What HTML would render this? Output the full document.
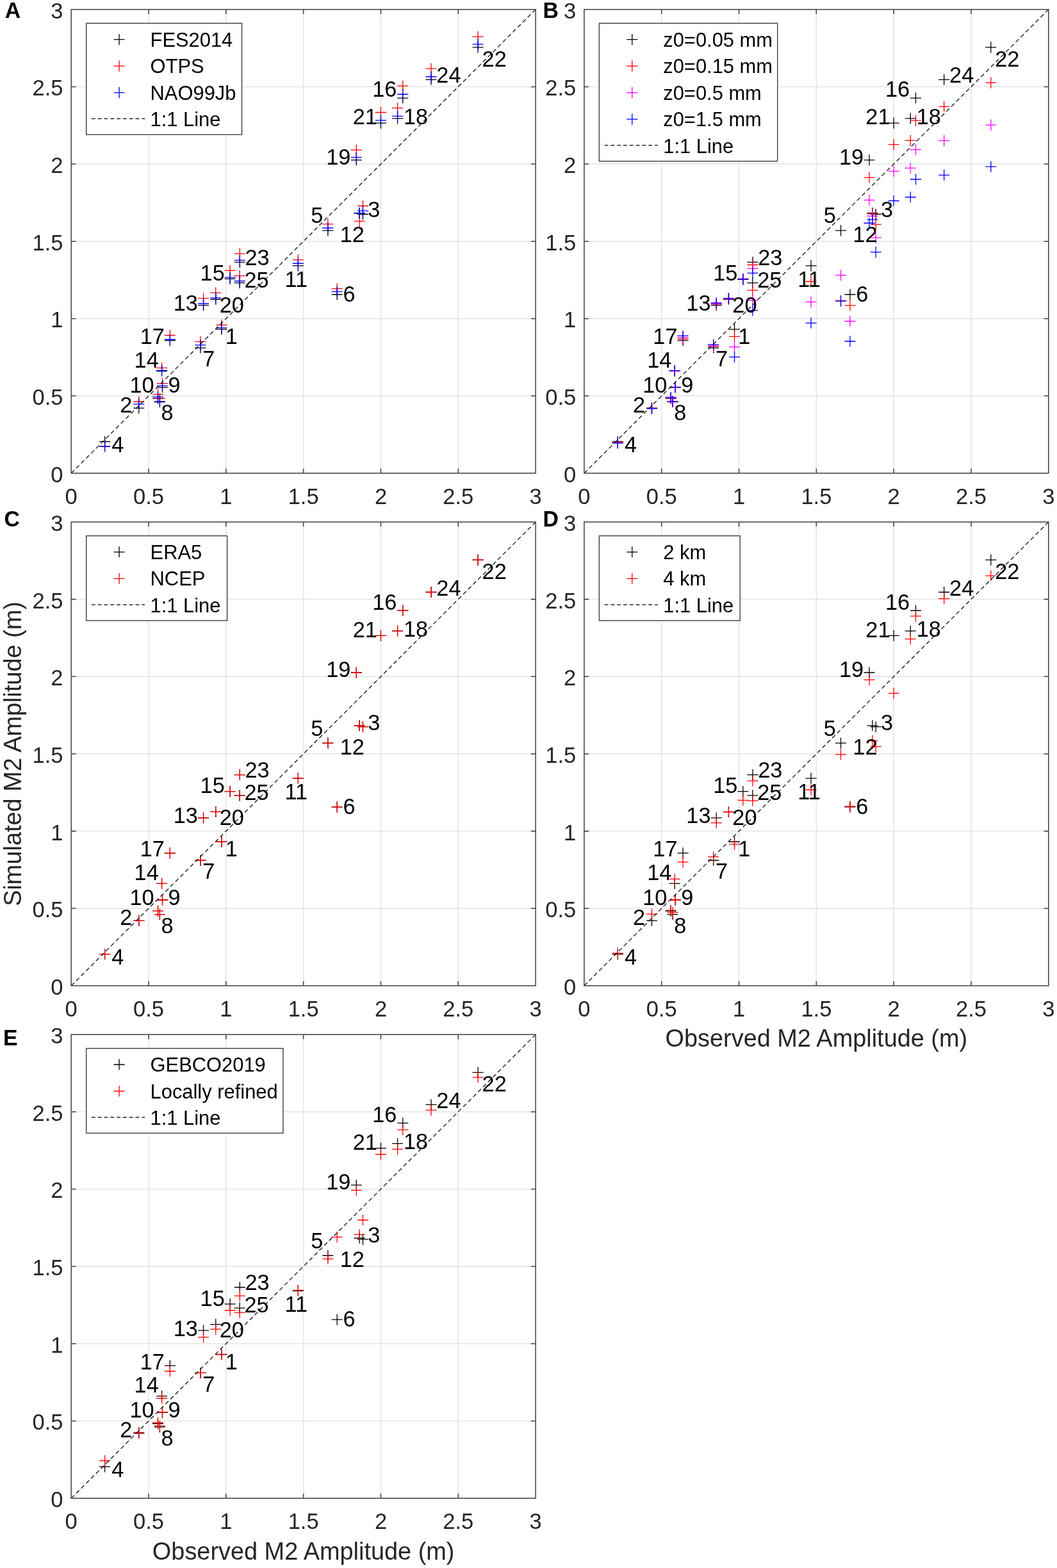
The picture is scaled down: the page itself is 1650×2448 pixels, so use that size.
<!DOCTYPE html>
<html lang="en"><head><meta charset="utf-8"><title>Simulated vs observed M2 amplitude</title>
<style>
html,body{margin:0;padding:0;background:#fff}
body{width:1650px;height:2448px;overflow:hidden}
svg{display:block;font-family:"Liberation Sans",sans-serif}
.grid{fill:none;stroke:#e4e4e4;stroke-width:1.5}
.ax{fill:none;stroke:#454545;stroke-width:1.55}
.mk{fill:none;stroke-width:1.3}
.one{fill:none;stroke:#000;stroke-width:1.2;stroke-dasharray:6.6 4.345}
.lgone{fill:none;stroke:#000;stroke-width:1.2;stroke-dasharray:5.8 4}
.lgbox{fill:#fff;stroke:#333;stroke-width:1.3}
.st text{font-size:34.3px;fill:#000}
.tk text{font-size:34.5px;fill:#262626}
.lg text{font-size:30.9px;fill:#000}
.axl{font-size:37.9px;fill:#262626}
.pl{font-size:33.8px;font-weight:bold;fill:#000}
</style></head><body>
<svg width="1650" height="2448" viewBox="0 0 1650 2448">
<rect width="1650" height="2448" fill="#fff"/>
<g class="panel">
<path class="grid" d="M232.02 14.75V738.75M111.2 618.08H836.1M352.83 14.75V738.75M111.2 497.42H836.1M473.65 14.75V738.75M111.2 376.75H836.1M594.47 14.75V738.75M111.2 256.08H836.1M715.28 14.75V738.75M111.2 135.42H836.1"/>
<path class="mk" stroke="#000" d="M337.28 514.07h17.1M345.83 505.52v17.1M208.24 637.15h17.1M216.79 628.6v17.1M557.89 334.52h17.1M566.44 325.97v17.1M155.08 689.52h17.1M163.63 680.97v17.1M503.28 359.86h17.1M511.83 351.31v17.1M517.66 459.77h17.1M526.21 451.22v17.1M304.41 543.03h17.1M312.96 534.48v17.1M240.86 627.5h17.1M249.41 618.95v17.1M244.97 604.81h17.1M253.52 596.26v17.1M237.96 622.19h17.1M246.51 613.64v17.1M456.79 414.88h17.1M465.34 406.33v17.1M552.57 332.59h17.1M561.12 324.04v17.1M309 476.66h17.1M317.55 468.11v17.1M244.01 579.23h17.1M252.56 570.68v17.1M350.57 435.39h17.1M359.12 426.84v17.1M620.23 153.03h17.1M628.78 144.48v17.1M256.81 531.69h17.1M265.36 523.14v17.1M612.01 184.89h17.1M620.56 176.34v17.1M547.74 249.81h17.1M556.29 241.26v17.1M328.21 467.25h17.1M336.76 458.7v17.1M585.92 192.13h17.1M594.47 183.58v17.1M737.54 73.88h17.1M746.09 65.33v17.1M365.79 409.33h17.1M374.34 400.78v17.1M664.45 124.32h17.1M673 115.77v17.1M365.55 441.67h17.1M374.1 433.12v17.1"/>
<path class="mk" stroke="#f00" d="M337.28 507.31h17.1M345.83 498.76v17.1M208.24 627.01h17.1M216.79 618.46v17.1M557.89 321.48h17.1M566.44 312.93v17.1M155.08 697h17.1M163.63 688.45v17.1M503.28 349.96h17.1M511.83 341.41v17.1M517.66 450.72h17.1M526.21 442.17v17.1M304.41 533.38h17.1M312.96 524.83v17.1M240.86 621.94h17.1M249.41 613.39v17.1M244.97 598.54h17.1M253.52 589.99v17.1M237.96 615.79h17.1M246.51 607.24v17.1M456.79 405.71h17.1M465.34 397.16v17.1M552.57 345.38h17.1M561.12 336.83v17.1M309 465.8h17.1M317.55 457.25v17.1M244.01 574.4h17.1M252.56 565.85v17.1M350.57 422.36h17.1M359.12 413.81v17.1M620.23 134.21h17.1M628.78 125.66v17.1M256.81 523.48h17.1M265.36 514.93v17.1M612.01 168.72h17.1M620.56 160.17v17.1M547.74 234.12h17.1M556.29 225.57v17.1M328.21 457.11h17.1M336.76 448.56v17.1M585.92 175.48h17.1M594.47 166.93v17.1M737.54 57.32h17.1M746.09 48.77v17.1M365.79 396.06h17.1M374.34 387.51v17.1M664.45 107.18h17.1M673 98.63v17.1M365.55 430.57h17.1M374.1 422.02v17.1"/>
<path class="mk" stroke="#00f" d="M337.28 511.9h17.1M345.83 503.35v17.1M208.24 630.87h17.1M216.79 622.32v17.1M557.89 329.21h17.1M566.44 320.66v17.1M155.08 697h17.1M163.63 688.45v17.1M503.28 356h17.1M511.83 347.45v17.1M517.66 455.3h17.1M526.21 446.75v17.1M304.41 538.68h17.1M312.96 530.13v17.1M240.86 626.89h17.1M249.41 618.34v17.1M244.97 602.4h17.1M253.52 593.85v17.1M237.96 619.53h17.1M246.51 610.98v17.1M456.79 411.26h17.1M465.34 402.71v17.1M552.57 333.07h17.1M561.12 324.52v17.1M309 474.01h17.1M317.55 465.46v17.1M244.01 578.5h17.1M252.56 569.95v17.1M350.57 433.22h17.1M359.12 424.67v17.1M620.23 147.24h17.1M628.78 138.69v17.1M256.81 530h17.1M265.36 521.45v17.1M612.01 181.37h17.1M620.56 172.82v17.1M547.74 245.71h17.1M556.29 237.16v17.1M328.21 464.84h17.1M336.76 456.29v17.1M585.92 187.79h17.1M594.47 179.24v17.1M737.54 69.05h17.1M746.09 60.5v17.1M365.79 406.43h17.1M374.34 397.88v17.1M664.45 119.73h17.1M673 111.18v17.1M365.55 438.77h17.1M374.1 430.22v17.1"/>
<path class="one" d="M111.2 738.75L836.1 14.75"/>
<g class="st">
<text transform="translate(351.67 537.1) scale(1 1.04)">1</text>
<text transform="translate(187.27 643.7) scale(1 1.04)">2</text>
<text transform="translate(574.19 339.3) scale(1 1.04)">3</text>
<text transform="translate(174.21 705.5) scale(1 1.04)">4</text>
<text transform="translate(485.13 348.3) scale(1 1.04)">5</text>
<text transform="translate(535.46 470.8) scale(1 1.04)">6</text>
<text transform="translate(316.34 572.1) scale(1 1.04)">7</text>
<text transform="translate(251.61 656.3) scale(1 1.04)">8</text>
<text transform="translate(262.49 612.7) scale(1 1.04)">9</text>
<text transform="translate(202.47 612.7) scale(1 1.04)">10</text>
<text transform="translate(444.57 447.8) scale(1 1.04)">11</text>
<text transform="translate(530.67 378) scale(1 1.04)">12</text>
<text transform="translate(270.67 485.2) scale(1 1.04)">13</text>
<text transform="translate(209.57 573.5) scale(1 1.04)">14</text>
<text transform="translate(312.57 438.2) scale(1 1.04)">15</text>
<text transform="translate(581.27 151.4) scale(1 1.04)">16</text>
<text transform="translate(218.67 537.1) scale(1 1.04)">17</text>
<text transform="translate(629.97 193.5) scale(1 1.04)">18</text>
<text transform="translate(509.27 256.9) scale(1 1.04)">19</text>
<text transform="translate(342.67 488) scale(1 1.04)">20</text>
<text transform="translate(550.67 194.4) scale(1 1.04)">21</text>
<text transform="translate(752.57 103.9) scale(1 1.04)">22</text>
<text transform="translate(382.47 413.9) scale(1 1.04)">23</text>
<text transform="translate(681.37 129.4) scale(1 1.04)">24</text>
<text transform="translate(381.47 448.8) scale(1 1.04)">25</text>
</g>
<path class="ax" d="M232.02 738.75v-7.25M232.02 14.75v7.25M111.2 618.08h7.25M836.1 618.08h-7.25M352.83 738.75v-7.25M352.83 14.75v7.25M111.2 497.42h7.25M836.1 497.42h-7.25M473.65 738.75v-7.25M473.65 14.75v7.25M111.2 376.75h7.25M836.1 376.75h-7.25M594.47 738.75v-7.25M594.47 14.75v7.25M111.2 256.08h7.25M836.1 256.08h-7.25M715.28 738.75v-7.25M715.28 14.75v7.25M111.2 135.42h7.25M836.1 135.42h-7.25"/>
<rect class="ax" x="111.2" y="14.75" width="724.9" height="724"/>
<g class="tk">
<text text-anchor="middle" transform="translate(111.2 786.65) scale(1 1.04)">0</text>
<text text-anchor="end" transform="translate(98.45 752.65) scale(1 1.04)">0</text>
<text text-anchor="middle" transform="translate(232.02 786.65) scale(1 1.04)">0.5</text>
<text text-anchor="end" transform="translate(98.45 631.98) scale(1 1.04)">0.5</text>
<text text-anchor="middle" transform="translate(352.83 786.65) scale(1 1.04)">1</text>
<text text-anchor="end" transform="translate(98.45 511.32) scale(1 1.04)">1</text>
<text text-anchor="middle" transform="translate(473.65 786.65) scale(1 1.04)">1.5</text>
<text text-anchor="end" transform="translate(98.45 390.65) scale(1 1.04)">1.5</text>
<text text-anchor="middle" transform="translate(594.47 786.65) scale(1 1.04)">2</text>
<text text-anchor="end" transform="translate(98.45 269.98) scale(1 1.04)">2</text>
<text text-anchor="middle" transform="translate(715.28 786.65) scale(1 1.04)">2.5</text>
<text text-anchor="end" transform="translate(98.45 149.32) scale(1 1.04)">2.5</text>
<text text-anchor="middle" transform="translate(836.1 786.65) scale(1 1.04)">3</text>
<text text-anchor="end" transform="translate(98.45 28.65) scale(1 1.04)">3</text>
</g>
<g class="lg">
<rect class="lgbox" x="134.65" y="36.35" width="242.9" height="173.8"/>
<path class="mk" stroke="#000" d="M177.5 61.6h17.1M186.05 53.05v17.1"/>
<text transform="translate(234.55 72.7) scale(1 1.025)">FES2014</text>
<path class="mk" stroke="#f00" d="M177.5 103.1h17.1M186.05 94.55v17.1"/>
<text transform="translate(234.55 114.2) scale(1 1.025)">OTPS</text>
<path class="mk" stroke="#00f" d="M177.5 144.6h17.1M186.05 136.05v17.1"/>
<text transform="translate(234.55 155.7) scale(1 1.025)">NAO99Jb</text>
<path class="lgone" d="M142.95 185.4H226.15"/>
<text transform="translate(234.55 197.2) scale(1 1.025)">1:1 Line</text>
</g>
</g>
<g class="panel">
<path class="grid" d="M1032.72 14.75V738.75M911.9 618.08H1636.8M1153.53 14.75V738.75M911.9 497.42H1636.8M1274.35 14.75V738.75M911.9 376.75H1636.8M1395.17 14.75V738.75M911.9 256.08H1636.8M1515.98 14.75V738.75M911.9 135.42H1636.8"/>
<path class="mk" stroke="#000" d="M1137.98 514.07h17.1M1146.53 505.52v17.1M1008.94 637.15h17.1M1017.49 628.6v17.1M1358.59 334.52h17.1M1367.14 325.97v17.1M955.78 689.52h17.1M964.33 680.97v17.1M1303.98 359.86h17.1M1312.53 351.31v17.1M1318.36 459.77h17.1M1326.91 451.22v17.1M1105.11 543.03h17.1M1113.66 534.48v17.1M1041.56 627.5h17.1M1050.11 618.95v17.1M1045.67 604.81h17.1M1054.22 596.26v17.1M1038.66 622.19h17.1M1047.21 613.64v17.1M1257.49 414.88h17.1M1266.04 406.33v17.1M1353.27 332.59h17.1M1361.82 324.04v17.1M1109.7 476.66h17.1M1118.25 468.11v17.1M1044.71 579.23h17.1M1053.26 570.68v17.1M1151.27 435.39h17.1M1159.82 426.84v17.1M1420.93 153.03h17.1M1429.48 144.48v17.1M1057.51 531.69h17.1M1066.06 523.14v17.1M1412.71 184.89h17.1M1421.26 176.34v17.1M1348.44 249.81h17.1M1356.99 241.26v17.1M1128.91 467.25h17.1M1137.46 458.7v17.1M1386.62 192.13h17.1M1395.17 183.58v17.1M1538.24 73.88h17.1M1546.79 65.33v17.1M1166.49 409.33h17.1M1175.04 400.78v17.1M1465.15 124.32h17.1M1473.7 115.77v17.1M1166.25 441.67h17.1M1174.8 433.12v17.1"/>
<path class="mk" stroke="#f00" d="M1137.98 525.41h17.1M1146.53 516.86v17.1M1008.94 637.39h17.1M1017.49 628.84v17.1M1358.59 350.44h17.1M1367.14 341.89v17.1M955.78 690.48h17.1M964.33 681.93v17.1M1303.98 469.42h17.1M1312.53 460.87v17.1M1318.36 476.78h17.1M1326.91 468.23v17.1M1105.11 541.1h17.1M1113.66 532.55v17.1M1041.56 627.25h17.1M1050.11 618.7v17.1M1045.67 604.57h17.1M1054.22 596.02v17.1M1038.66 621.7h17.1M1047.21 613.15v17.1M1257.49 439.5h17.1M1266.04 430.95v17.1M1353.27 333.79h17.1M1361.82 325.24v17.1M1109.7 474.97h17.1M1118.25 466.42v17.1M1044.71 579.23h17.1M1053.26 570.68v17.1M1151.27 436.46h17.1M1159.82 427.91v17.1M1420.93 188.1h17.1M1429.48 179.55v17.1M1057.51 529.27h17.1M1066.06 520.72v17.1M1412.71 219.4h17.1M1421.26 210.85v17.1M1348.44 277.15h17.1M1356.99 268.6v17.1M1128.91 466.53h17.1M1137.46 457.98v17.1M1386.62 225.6h17.1M1395.17 217.05v17.1M1538.24 129.14h17.1M1546.79 120.59v17.1M1166.49 413.48h17.1M1175.04 404.93v17.1M1465.15 166.31h17.1M1473.7 157.76v17.1M1166.25 453.11h17.1M1174.8 444.56v17.1"/>
<path class="mk" stroke="#f0f" d="M1137.98 541.58h17.1M1146.53 533.03v17.1M1008.94 637.63h17.1M1017.49 629.08v17.1M1358.59 371.2h17.1M1367.14 362.65v17.1M955.78 691.21h17.1M964.33 682.66v17.1M1303.98 429.6h17.1M1312.53 421.05v17.1M1318.36 501.52h17.1M1326.91 492.97v17.1M1105.11 539.41h17.1M1113.66 530.86v17.1M1041.56 627.01h17.1M1050.11 618.46v17.1M1045.67 604.57h17.1M1054.22 596.02v17.1M1038.66 620.98h17.1M1047.21 612.43v17.1M1257.49 471.47h17.1M1266.04 462.92v17.1M1353.27 337.41h17.1M1361.82 328.86v17.1M1109.7 473.77h17.1M1118.25 465.22v17.1M1044.71 578.99h17.1M1053.26 570.44v17.1M1151.27 436.46h17.1M1159.82 427.91v17.1M1420.93 233.64h17.1M1429.48 225.09v17.1M1057.51 526.62h17.1M1066.06 518.07v17.1M1412.71 262.36h17.1M1421.26 253.81v17.1M1348.44 312.31h17.1M1356.99 303.76v17.1M1128.91 466.04h17.1M1137.46 457.49v17.1M1386.62 267.43h17.1M1395.17 258.88v17.1M1538.24 195.1h17.1M1546.79 186.55v17.1M1166.49 419.22h17.1M1175.04 410.67v17.1M1465.15 219.64h17.1M1473.7 211.09v17.1M1166.25 468.6h17.1M1174.8 460.05v17.1"/>
<path class="mk" stroke="#00f" d="M1137.98 557.41h17.1M1146.53 548.86v17.1M1008.94 637.97h17.1M1017.49 629.42v17.1M1358.59 393.64h17.1M1367.14 385.09v17.1M955.78 691.93h17.1M964.33 683.38v17.1M1303.98 470.15h17.1M1312.53 461.6v17.1M1318.36 532.75h17.1M1326.91 524.2v17.1M1105.11 537.96h17.1M1113.66 529.41v17.1M1041.56 626.53h17.1M1050.11 617.98v17.1M1045.67 604.33h17.1M1054.22 595.78v17.1M1038.66 620.38h17.1M1047.21 611.83v17.1M1257.49 504.29h17.1M1266.04 495.74v17.1M1353.27 342.96h17.1M1361.82 334.41v17.1M1109.7 472.92h17.1M1118.25 464.37v17.1M1044.71 578.6h17.1M1053.26 570.05v17.1M1151.27 436.12h17.1M1159.82 427.57v17.1M1420.93 279.98h17.1M1429.48 271.43v17.1M1057.51 524.2h17.1M1066.06 515.65v17.1M1412.71 307.73h17.1M1421.26 299.18v17.1M1348.44 348.27h17.1M1356.99 339.72v17.1M1128.91 465.8h17.1M1137.46 457.25v17.1M1386.62 313.52h17.1M1395.17 304.97v17.1M1538.24 260.19h17.1M1546.79 251.64v17.1M1166.49 426.46h17.1M1175.04 417.91v17.1M1465.15 273.31h17.1M1473.7 264.76v17.1M1166.25 484.67h17.1M1174.8 476.12v17.1"/>
<path class="one" d="M911.9 738.75L1636.8 14.75"/>
<g class="st">
<text transform="translate(1152.37 537.1) scale(1 1.04)">1</text>
<text transform="translate(987.97 643.7) scale(1 1.04)">2</text>
<text transform="translate(1374.89 339.3) scale(1 1.04)">3</text>
<text transform="translate(974.91 705.5) scale(1 1.04)">4</text>
<text transform="translate(1285.83 348.3) scale(1 1.04)">5</text>
<text transform="translate(1336.16 470.8) scale(1 1.04)">6</text>
<text transform="translate(1117.04 572.1) scale(1 1.04)">7</text>
<text transform="translate(1052.31 656.3) scale(1 1.04)">8</text>
<text transform="translate(1063.19 612.7) scale(1 1.04)">9</text>
<text transform="translate(1003.17 612.7) scale(1 1.04)">10</text>
<text transform="translate(1245.27 447.8) scale(1 1.04)">11</text>
<text transform="translate(1331.37 378) scale(1 1.04)">12</text>
<text transform="translate(1071.37 485.2) scale(1 1.04)">13</text>
<text transform="translate(1010.27 573.5) scale(1 1.04)">14</text>
<text transform="translate(1113.27 438.2) scale(1 1.04)">15</text>
<text transform="translate(1381.97 151.4) scale(1 1.04)">16</text>
<text transform="translate(1019.37 537.1) scale(1 1.04)">17</text>
<text transform="translate(1430.67 193.5) scale(1 1.04)">18</text>
<text transform="translate(1309.97 256.9) scale(1 1.04)">19</text>
<text transform="translate(1143.37 488) scale(1 1.04)">20</text>
<text transform="translate(1351.37 194.4) scale(1 1.04)">21</text>
<text transform="translate(1553.27 103.9) scale(1 1.04)">22</text>
<text transform="translate(1183.17 413.9) scale(1 1.04)">23</text>
<text transform="translate(1482.07 129.4) scale(1 1.04)">24</text>
<text transform="translate(1182.17 448.8) scale(1 1.04)">25</text>
</g>
<path class="ax" d="M1032.72 738.75v-7.25M1032.72 14.75v7.25M911.9 618.08h7.25M1636.8 618.08h-7.25M1153.53 738.75v-7.25M1153.53 14.75v7.25M911.9 497.42h7.25M1636.8 497.42h-7.25M1274.35 738.75v-7.25M1274.35 14.75v7.25M911.9 376.75h7.25M1636.8 376.75h-7.25M1395.17 738.75v-7.25M1395.17 14.75v7.25M911.9 256.08h7.25M1636.8 256.08h-7.25M1515.98 738.75v-7.25M1515.98 14.75v7.25M911.9 135.42h7.25M1636.8 135.42h-7.25"/>
<rect class="ax" x="911.9" y="14.75" width="724.9" height="724"/>
<g class="tk">
<text text-anchor="middle" transform="translate(911.9 786.65) scale(1 1.04)">0</text>
<text text-anchor="end" transform="translate(899.15 752.65) scale(1 1.04)">0</text>
<text text-anchor="middle" transform="translate(1032.72 786.65) scale(1 1.04)">0.5</text>
<text text-anchor="end" transform="translate(899.15 631.98) scale(1 1.04)">0.5</text>
<text text-anchor="middle" transform="translate(1153.53 786.65) scale(1 1.04)">1</text>
<text text-anchor="end" transform="translate(899.15 511.32) scale(1 1.04)">1</text>
<text text-anchor="middle" transform="translate(1274.35 786.65) scale(1 1.04)">1.5</text>
<text text-anchor="end" transform="translate(899.15 390.65) scale(1 1.04)">1.5</text>
<text text-anchor="middle" transform="translate(1395.17 786.65) scale(1 1.04)">2</text>
<text text-anchor="end" transform="translate(899.15 269.98) scale(1 1.04)">2</text>
<text text-anchor="middle" transform="translate(1515.98 786.65) scale(1 1.04)">2.5</text>
<text text-anchor="end" transform="translate(899.15 149.32) scale(1 1.04)">2.5</text>
<text text-anchor="middle" transform="translate(1636.8 786.65) scale(1 1.04)">3</text>
<text text-anchor="end" transform="translate(899.15 28.65) scale(1 1.04)">3</text>
</g>
<g class="lg">
<rect class="lgbox" x="935.35" y="36.35" width="278.4" height="215.3"/>
<path class="mk" stroke="#000" d="M978.2 61.6h17.1M986.75 53.05v17.1"/>
<text transform="translate(1035.25 72.7) scale(1 1.025)">z0=0.05 mm</text>
<path class="mk" stroke="#f00" d="M978.2 103.1h17.1M986.75 94.55v17.1"/>
<text transform="translate(1035.25 114.2) scale(1 1.025)">z0=0.15 mm</text>
<path class="mk" stroke="#f0f" d="M978.2 144.6h17.1M986.75 136.05v17.1"/>
<text transform="translate(1035.25 155.7) scale(1 1.025)">z0=0.5 mm</text>
<path class="mk" stroke="#00f" d="M978.2 186.1h17.1M986.75 177.55v17.1"/>
<text transform="translate(1035.25 197.2) scale(1 1.025)">z0=1.5 mm</text>
<path class="lgone" d="M943.65 226.9H1026.85"/>
<text transform="translate(1035.25 238.7) scale(1 1.025)">1:1 Line</text>
</g>
</g>
<g class="panel">
<path class="grid" d="M232.02 814.95V1538.95M111.2 1418.28H836.1M352.83 814.95V1538.95M111.2 1297.62H836.1M473.65 814.95V1538.95M111.2 1176.95H836.1M594.47 814.95V1538.95M111.2 1056.28H836.1M715.28 814.95V1538.95M111.2 935.62H836.1"/>
<path class="mk" stroke="#000" d="M337.28 1314.27h17.1M345.83 1305.72v17.1M208.24 1437.35h17.1M216.79 1428.8v17.1M557.89 1134.72h17.1M566.44 1126.17v17.1M155.08 1489.72h17.1M163.63 1481.17v17.1M503.28 1160.06h17.1M511.83 1151.51v17.1M517.66 1259.97h17.1M526.21 1251.42v17.1M304.41 1343.23h17.1M312.96 1334.68v17.1M240.86 1427.7h17.1M249.41 1419.15v17.1M244.97 1405.01h17.1M253.52 1396.46v17.1M237.96 1422.39h17.1M246.51 1413.84v17.1M456.79 1215.08h17.1M465.34 1206.53v17.1M552.57 1132.79h17.1M561.12 1124.24v17.1M309 1276.86h17.1M317.55 1268.31v17.1M244.01 1379.43h17.1M252.56 1370.88v17.1M350.57 1235.59h17.1M359.12 1227.04v17.1M620.23 953.23h17.1M628.78 944.68v17.1M256.81 1331.89h17.1M265.36 1323.34v17.1M612.01 985.09h17.1M620.56 976.54v17.1M547.74 1050.01h17.1M556.29 1041.46v17.1M328.21 1267.45h17.1M336.76 1258.9v17.1M585.92 992.33h17.1M594.47 983.78v17.1M737.54 874.08h17.1M746.09 865.53v17.1M365.79 1209.53h17.1M374.34 1200.98v17.1M664.45 924.52h17.1M673 915.97v17.1M365.55 1241.87h17.1M374.1 1233.32v17.1"/>
<path class="mk" stroke="#f00" d="M337.28 1314.27h17.1M345.83 1305.72v17.1M208.24 1437.35h17.1M216.79 1428.8v17.1M557.89 1134.72h17.1M566.44 1126.17v17.1M155.08 1489.72h17.1M163.63 1481.17v17.1M503.28 1160.06h17.1M511.83 1151.51v17.1M517.66 1259.97h17.1M526.21 1251.42v17.1M304.41 1343.23h17.1M312.96 1334.68v17.1M240.86 1427.7h17.1M249.41 1419.15v17.1M244.97 1405.01h17.1M253.52 1396.46v17.1M237.96 1422.39h17.1M246.51 1413.84v17.1M456.79 1215.08h17.1M465.34 1206.53v17.1M552.57 1132.79h17.1M561.12 1124.24v17.1M309 1276.86h17.1M317.55 1268.31v17.1M244.01 1379.43h17.1M252.56 1370.88v17.1M350.57 1235.59h17.1M359.12 1227.04v17.1M620.23 953.23h17.1M628.78 944.68v17.1M256.81 1331.89h17.1M265.36 1323.34v17.1M612.01 985.09h17.1M620.56 976.54v17.1M547.74 1050.01h17.1M556.29 1041.46v17.1M328.21 1267.45h17.1M336.76 1258.9v17.1M585.92 992.33h17.1M594.47 983.78v17.1M737.54 874.08h17.1M746.09 865.53v17.1M365.79 1209.53h17.1M374.34 1200.98v17.1M664.45 924.52h17.1M673 915.97v17.1M365.55 1241.87h17.1M374.1 1233.32v17.1"/>
<path class="one" d="M111.2 1538.95L836.1 814.95"/>
<g class="st">
<text transform="translate(351.67 1337.3) scale(1 1.04)">1</text>
<text transform="translate(187.27 1443.9) scale(1 1.04)">2</text>
<text transform="translate(574.19 1139.5) scale(1 1.04)">3</text>
<text transform="translate(174.21 1505.7) scale(1 1.04)">4</text>
<text transform="translate(485.13 1148.5) scale(1 1.04)">5</text>
<text transform="translate(535.46 1271) scale(1 1.04)">6</text>
<text transform="translate(316.34 1372.3) scale(1 1.04)">7</text>
<text transform="translate(251.61 1456.5) scale(1 1.04)">8</text>
<text transform="translate(262.49 1412.9) scale(1 1.04)">9</text>
<text transform="translate(202.47 1412.9) scale(1 1.04)">10</text>
<text transform="translate(444.57 1248) scale(1 1.04)">11</text>
<text transform="translate(530.67 1178.2) scale(1 1.04)">12</text>
<text transform="translate(270.67 1285.4) scale(1 1.04)">13</text>
<text transform="translate(209.57 1373.7) scale(1 1.04)">14</text>
<text transform="translate(312.57 1238.4) scale(1 1.04)">15</text>
<text transform="translate(581.27 951.6) scale(1 1.04)">16</text>
<text transform="translate(218.67 1337.3) scale(1 1.04)">17</text>
<text transform="translate(629.97 993.7) scale(1 1.04)">18</text>
<text transform="translate(509.27 1057.1) scale(1 1.04)">19</text>
<text transform="translate(342.67 1288.2) scale(1 1.04)">20</text>
<text transform="translate(550.67 994.6) scale(1 1.04)">21</text>
<text transform="translate(752.57 904.1) scale(1 1.04)">22</text>
<text transform="translate(382.47 1214.1) scale(1 1.04)">23</text>
<text transform="translate(681.37 929.6) scale(1 1.04)">24</text>
<text transform="translate(381.47 1249) scale(1 1.04)">25</text>
</g>
<path class="ax" d="M232.02 1538.95v-7.25M232.02 814.95v7.25M111.2 1418.28h7.25M836.1 1418.28h-7.25M352.83 1538.95v-7.25M352.83 814.95v7.25M111.2 1297.62h7.25M836.1 1297.62h-7.25M473.65 1538.95v-7.25M473.65 814.95v7.25M111.2 1176.95h7.25M836.1 1176.95h-7.25M594.47 1538.95v-7.25M594.47 814.95v7.25M111.2 1056.28h7.25M836.1 1056.28h-7.25M715.28 1538.95v-7.25M715.28 814.95v7.25M111.2 935.62h7.25M836.1 935.62h-7.25"/>
<rect class="ax" x="111.2" y="814.95" width="724.9" height="724"/>
<g class="tk">
<text text-anchor="middle" transform="translate(111.2 1586.85) scale(1 1.04)">0</text>
<text text-anchor="end" transform="translate(98.45 1552.85) scale(1 1.04)">0</text>
<text text-anchor="middle" transform="translate(232.02 1586.85) scale(1 1.04)">0.5</text>
<text text-anchor="end" transform="translate(98.45 1432.18) scale(1 1.04)">0.5</text>
<text text-anchor="middle" transform="translate(352.83 1586.85) scale(1 1.04)">1</text>
<text text-anchor="end" transform="translate(98.45 1311.52) scale(1 1.04)">1</text>
<text text-anchor="middle" transform="translate(473.65 1586.85) scale(1 1.04)">1.5</text>
<text text-anchor="end" transform="translate(98.45 1190.85) scale(1 1.04)">1.5</text>
<text text-anchor="middle" transform="translate(594.47 1586.85) scale(1 1.04)">2</text>
<text text-anchor="end" transform="translate(98.45 1070.18) scale(1 1.04)">2</text>
<text text-anchor="middle" transform="translate(715.28 1586.85) scale(1 1.04)">2.5</text>
<text text-anchor="end" transform="translate(98.45 949.52) scale(1 1.04)">2.5</text>
<text text-anchor="middle" transform="translate(836.1 1586.85) scale(1 1.04)">3</text>
<text text-anchor="end" transform="translate(98.45 828.85) scale(1 1.04)">3</text>
</g>
<g class="lg">
<rect class="lgbox" x="134.65" y="836.55" width="219.9" height="132.3"/>
<path class="mk" stroke="#000" d="M177.5 861.8h17.1M186.05 853.25v17.1"/>
<text transform="translate(234.55 872.9) scale(1 1.025)">ERA5</text>
<path class="mk" stroke="#f00" d="M177.5 903.3h17.1M186.05 894.75v17.1"/>
<text transform="translate(234.55 914.4) scale(1 1.025)">NCEP</text>
<path class="lgone" d="M142.95 944.1H226.15"/>
<text transform="translate(234.55 955.9) scale(1 1.025)">1:1 Line</text>
</g>
</g>
<g class="panel">
<path class="grid" d="M1032.72 814.95V1538.95M911.9 1418.28H1636.8M1153.53 814.95V1538.95M911.9 1297.62H1636.8M1274.35 814.95V1538.95M911.9 1176.95H1636.8M1395.17 814.95V1538.95M911.9 1056.28H1636.8M1515.98 814.95V1538.95M911.9 935.62H1636.8"/>
<path class="mk" stroke="#000" d="M1137.98 1314.27h17.1M1146.53 1305.72v17.1M1008.94 1437.35h17.1M1017.49 1428.8v17.1M1358.59 1134.72h17.1M1367.14 1126.17v17.1M955.78 1489.72h17.1M964.33 1481.17v17.1M1303.98 1160.06h17.1M1312.53 1151.51v17.1M1318.36 1259.97h17.1M1326.91 1251.42v17.1M1105.11 1343.23h17.1M1113.66 1334.68v17.1M1041.56 1427.7h17.1M1050.11 1419.15v17.1M1045.67 1405.01h17.1M1054.22 1396.46v17.1M1038.66 1422.39h17.1M1047.21 1413.84v17.1M1257.49 1215.08h17.1M1266.04 1206.53v17.1M1353.27 1132.79h17.1M1361.82 1124.24v17.1M1109.7 1276.86h17.1M1118.25 1268.31v17.1M1044.71 1379.43h17.1M1053.26 1370.88v17.1M1151.27 1235.59h17.1M1159.82 1227.04v17.1M1420.93 953.23h17.1M1429.48 944.68v17.1M1057.51 1331.89h17.1M1066.06 1323.34v17.1M1412.71 985.09h17.1M1421.26 976.54v17.1M1348.44 1050.01h17.1M1356.99 1041.46v17.1M1128.91 1267.45h17.1M1137.46 1258.9v17.1M1386.62 992.33h17.1M1395.17 983.78v17.1M1538.24 874.08h17.1M1546.79 865.53v17.1M1166.49 1209.53h17.1M1175.04 1200.98v17.1M1465.15 924.52h17.1M1473.7 915.97v17.1M1166.25 1241.87h17.1M1174.8 1233.32v17.1"/>
<path class="mk" stroke="#f00" d="M1137.98 1318.13h17.1M1146.53 1309.58v17.1M1008.94 1427.21h17.1M1017.49 1418.66v17.1M1358.59 1165.61h17.1M1367.14 1157.06v17.1M955.78 1488.03h17.1M964.33 1479.48v17.1M1303.98 1177.92h17.1M1312.53 1169.37v17.1M1318.36 1259h17.1M1326.91 1250.45v17.1M1105.11 1337.68h17.1M1113.66 1329.13v17.1M1041.56 1424.56h17.1M1050.11 1416.01v17.1M1045.67 1405.25h17.1M1054.22 1396.7v17.1M1038.66 1421.42h17.1M1047.21 1412.87v17.1M1257.49 1232.99h17.1M1266.04 1224.44v17.1M1353.27 1156.44h17.1M1361.82 1147.89v17.1M1109.7 1284.58h17.1M1118.25 1276.03v17.1M1044.71 1372.43h17.1M1053.26 1363.88v17.1M1151.27 1249.35h17.1M1159.82 1240.8v17.1M1420.93 961.92h17.1M1429.48 953.37v17.1M1057.51 1345.88h17.1M1066.06 1337.33v17.1M1412.71 997.64h17.1M1421.26 989.09v17.1M1348.44 1061.35h17.1M1356.99 1052.8v17.1M1128.91 1267.76h17.1M1137.46 1259.21v17.1M1386.62 1082.35h17.1M1395.17 1073.8v17.1M1538.24 898.81h17.1M1546.79 890.26v17.1M1166.49 1219.06h17.1M1175.04 1210.51v17.1M1465.15 934.55h17.1M1473.7 926v17.1M1166.25 1250.15h17.1M1174.8 1241.6v17.1"/>
<path class="one" d="M911.9 1538.95L1636.8 814.95"/>
<g class="st">
<text transform="translate(1152.37 1337.3) scale(1 1.04)">1</text>
<text transform="translate(987.97 1443.9) scale(1 1.04)">2</text>
<text transform="translate(1374.89 1139.5) scale(1 1.04)">3</text>
<text transform="translate(974.91 1505.7) scale(1 1.04)">4</text>
<text transform="translate(1285.83 1148.5) scale(1 1.04)">5</text>
<text transform="translate(1336.16 1271) scale(1 1.04)">6</text>
<text transform="translate(1117.04 1372.3) scale(1 1.04)">7</text>
<text transform="translate(1052.31 1456.5) scale(1 1.04)">8</text>
<text transform="translate(1063.19 1412.9) scale(1 1.04)">9</text>
<text transform="translate(1003.17 1412.9) scale(1 1.04)">10</text>
<text transform="translate(1245.27 1248) scale(1 1.04)">11</text>
<text transform="translate(1331.37 1178.2) scale(1 1.04)">12</text>
<text transform="translate(1071.37 1285.4) scale(1 1.04)">13</text>
<text transform="translate(1010.27 1373.7) scale(1 1.04)">14</text>
<text transform="translate(1113.27 1238.4) scale(1 1.04)">15</text>
<text transform="translate(1381.97 951.6) scale(1 1.04)">16</text>
<text transform="translate(1019.37 1337.3) scale(1 1.04)">17</text>
<text transform="translate(1430.67 993.7) scale(1 1.04)">18</text>
<text transform="translate(1309.97 1057.1) scale(1 1.04)">19</text>
<text transform="translate(1143.37 1288.2) scale(1 1.04)">20</text>
<text transform="translate(1351.37 994.6) scale(1 1.04)">21</text>
<text transform="translate(1553.27 904.1) scale(1 1.04)">22</text>
<text transform="translate(1183.17 1214.1) scale(1 1.04)">23</text>
<text transform="translate(1482.07 929.6) scale(1 1.04)">24</text>
<text transform="translate(1182.17 1249) scale(1 1.04)">25</text>
</g>
<path class="ax" d="M1032.72 1538.95v-7.25M1032.72 814.95v7.25M911.9 1418.28h7.25M1636.8 1418.28h-7.25M1153.53 1538.95v-7.25M1153.53 814.95v7.25M911.9 1297.62h7.25M1636.8 1297.62h-7.25M1274.35 1538.95v-7.25M1274.35 814.95v7.25M911.9 1176.95h7.25M1636.8 1176.95h-7.25M1395.17 1538.95v-7.25M1395.17 814.95v7.25M911.9 1056.28h7.25M1636.8 1056.28h-7.25M1515.98 1538.95v-7.25M1515.98 814.95v7.25M911.9 935.62h7.25M1636.8 935.62h-7.25"/>
<rect class="ax" x="911.9" y="814.95" width="724.9" height="724"/>
<g class="tk">
<text text-anchor="middle" transform="translate(911.9 1586.85) scale(1 1.04)">0</text>
<text text-anchor="end" transform="translate(899.15 1552.85) scale(1 1.04)">0</text>
<text text-anchor="middle" transform="translate(1032.72 1586.85) scale(1 1.04)">0.5</text>
<text text-anchor="end" transform="translate(899.15 1432.18) scale(1 1.04)">0.5</text>
<text text-anchor="middle" transform="translate(1153.53 1586.85) scale(1 1.04)">1</text>
<text text-anchor="end" transform="translate(899.15 1311.52) scale(1 1.04)">1</text>
<text text-anchor="middle" transform="translate(1274.35 1586.85) scale(1 1.04)">1.5</text>
<text text-anchor="end" transform="translate(899.15 1190.85) scale(1 1.04)">1.5</text>
<text text-anchor="middle" transform="translate(1395.17 1586.85) scale(1 1.04)">2</text>
<text text-anchor="end" transform="translate(899.15 1070.18) scale(1 1.04)">2</text>
<text text-anchor="middle" transform="translate(1515.98 1586.85) scale(1 1.04)">2.5</text>
<text text-anchor="end" transform="translate(899.15 949.52) scale(1 1.04)">2.5</text>
<text text-anchor="middle" transform="translate(1636.8 1586.85) scale(1 1.04)">3</text>
<text text-anchor="end" transform="translate(899.15 828.85) scale(1 1.04)">3</text>
</g>
<g class="lg">
<rect class="lgbox" x="935.35" y="836.55" width="219.9" height="132.3"/>
<path class="mk" stroke="#000" d="M978.2 861.8h17.1M986.75 853.25v17.1"/>
<text transform="translate(1035.25 872.9) scale(1 1.025)">2 km</text>
<path class="mk" stroke="#f00" d="M978.2 903.3h17.1M986.75 894.75v17.1"/>
<text transform="translate(1035.25 914.4) scale(1 1.025)">4 km</text>
<path class="lgone" d="M943.65 944.1H1026.85"/>
<text transform="translate(1035.25 955.9) scale(1 1.025)">1:1 Line</text>
</g>
</g>
<g class="panel">
<path class="grid" d="M232.02 1615.15V2339.15M111.2 2218.48H836.1M352.83 1615.15V2339.15M111.2 2097.82H836.1M473.65 1615.15V2339.15M111.2 1977.15H836.1M594.47 1615.15V2339.15M111.2 1856.48H836.1M715.28 1615.15V2339.15M111.2 1735.82H836.1"/>
<path class="mk" stroke="#000" d="M337.28 2114.47h17.1M345.83 2105.92v17.1M208.24 2237.55h17.1M216.79 2229v17.1M557.89 1934.92h17.1M566.44 1926.37v17.1M155.08 2289.92h17.1M163.63 2281.37v17.1M503.28 1960.26h17.1M511.83 1951.71v17.1M517.66 2060.17h17.1M526.21 2051.62v17.1M304.41 2143.43h17.1M312.96 2134.88v17.1M240.86 2227.9h17.1M249.41 2219.35v17.1M244.97 2205.21h17.1M253.52 2196.66v17.1M237.96 2222.59h17.1M246.51 2214.04v17.1M456.79 2015.28h17.1M465.34 2006.73v17.1M552.57 1932.99h17.1M561.12 1924.44v17.1M309 2077.06h17.1M317.55 2068.51v17.1M244.01 2179.63h17.1M252.56 2171.08v17.1M350.57 2035.79h17.1M359.12 2027.24v17.1M620.23 1753.43h17.1M628.78 1744.88v17.1M256.81 2132.09h17.1M265.36 2123.54v17.1M612.01 1785.29h17.1M620.56 1776.74v17.1M547.74 1850.21h17.1M556.29 1841.66v17.1M328.21 2067.65h17.1M336.76 2059.1v17.1M585.92 1792.53h17.1M594.47 1783.98v17.1M737.54 1674.28h17.1M746.09 1665.73v17.1M365.79 2009.73h17.1M374.34 2001.18v17.1M664.45 1724.72h17.1M673 1716.17v17.1M365.55 2042.07h17.1M374.1 2033.52v17.1"/>
<path class="mk" stroke="#f00" d="M337.28 2114.95h17.1M345.83 2106.4v17.1M208.24 2236.58h17.1M216.79 2228.03v17.1M557.89 1904.75h17.1M566.44 1896.2v17.1M155.08 2280.51h17.1M163.63 2271.96v17.1M503.28 1965.32h17.1M511.83 1956.77v17.1M517.66 1931.42h17.1M526.21 1922.87v17.1M304.41 2143.43h17.1M312.96 2134.88v17.1M240.86 2226.21h17.1M249.41 2217.66v17.1M244.97 2204.73h17.1M253.52 2196.18v17.1M237.96 2221.23h17.1M246.51 2212.68v17.1M456.79 2014.32h17.1M465.34 2005.77v17.1M552.57 1927.44h17.1M561.12 1918.89v17.1M309 2087.68h17.1M317.55 2079.13v17.1M244.01 2183.25h17.1M252.56 2174.7v17.1M350.57 2045.76h17.1M359.12 2037.21v17.1M620.23 1763.86h17.1M628.78 1755.31v17.1M256.81 2140.77h17.1M265.36 2132.22v17.1M612.01 1794.22h17.1M620.56 1785.67v17.1M547.74 1858.32h17.1M556.29 1849.77v17.1M328.21 2075.13h17.1M336.76 2066.58v17.1M585.92 1802.26h17.1M594.47 1793.71v17.1M737.54 1682.07h17.1M746.09 1673.52v17.1M365.79 2023.1h17.1M374.34 2014.55v17.1M664.45 1733.16h17.1M673 1724.61v17.1M365.55 2049.12h17.1M374.1 2040.57v17.1"/>
<path class="one" d="M111.2 2339.15L836.1 1615.15"/>
<g class="st">
<text transform="translate(351.67 2137.5) scale(1 1.04)">1</text>
<text transform="translate(187.27 2244.1) scale(1 1.04)">2</text>
<text transform="translate(574.19 1939.7) scale(1 1.04)">3</text>
<text transform="translate(174.21 2305.9) scale(1 1.04)">4</text>
<text transform="translate(485.13 1948.7) scale(1 1.04)">5</text>
<text transform="translate(535.46 2071.2) scale(1 1.04)">6</text>
<text transform="translate(316.34 2172.5) scale(1 1.04)">7</text>
<text transform="translate(251.61 2256.7) scale(1 1.04)">8</text>
<text transform="translate(262.49 2213.1) scale(1 1.04)">9</text>
<text transform="translate(202.47 2213.1) scale(1 1.04)">10</text>
<text transform="translate(444.57 2048.2) scale(1 1.04)">11</text>
<text transform="translate(530.67 1978.4) scale(1 1.04)">12</text>
<text transform="translate(270.67 2085.6) scale(1 1.04)">13</text>
<text transform="translate(209.57 2173.9) scale(1 1.04)">14</text>
<text transform="translate(312.57 2038.6) scale(1 1.04)">15</text>
<text transform="translate(581.27 1751.8) scale(1 1.04)">16</text>
<text transform="translate(218.67 2137.5) scale(1 1.04)">17</text>
<text transform="translate(629.97 1793.9) scale(1 1.04)">18</text>
<text transform="translate(509.27 1857.3) scale(1 1.04)">19</text>
<text transform="translate(342.67 2088.4) scale(1 1.04)">20</text>
<text transform="translate(550.67 1794.8) scale(1 1.04)">21</text>
<text transform="translate(752.57 1704.3) scale(1 1.04)">22</text>
<text transform="translate(382.47 2014.3) scale(1 1.04)">23</text>
<text transform="translate(681.37 1729.8) scale(1 1.04)">24</text>
<text transform="translate(381.47 2049.2) scale(1 1.04)">25</text>
</g>
<path class="ax" d="M232.02 2339.15v-7.25M232.02 1615.15v7.25M111.2 2218.48h7.25M836.1 2218.48h-7.25M352.83 2339.15v-7.25M352.83 1615.15v7.25M111.2 2097.82h7.25M836.1 2097.82h-7.25M473.65 2339.15v-7.25M473.65 1615.15v7.25M111.2 1977.15h7.25M836.1 1977.15h-7.25M594.47 2339.15v-7.25M594.47 1615.15v7.25M111.2 1856.48h7.25M836.1 1856.48h-7.25M715.28 2339.15v-7.25M715.28 1615.15v7.25M111.2 1735.82h7.25M836.1 1735.82h-7.25"/>
<rect class="ax" x="111.2" y="1615.15" width="724.9" height="724"/>
<g class="tk">
<text text-anchor="middle" transform="translate(111.2 2387.05) scale(1 1.04)">0</text>
<text text-anchor="end" transform="translate(98.45 2353.05) scale(1 1.04)">0</text>
<text text-anchor="middle" transform="translate(232.02 2387.05) scale(1 1.04)">0.5</text>
<text text-anchor="end" transform="translate(98.45 2232.38) scale(1 1.04)">0.5</text>
<text text-anchor="middle" transform="translate(352.83 2387.05) scale(1 1.04)">1</text>
<text text-anchor="end" transform="translate(98.45 2111.72) scale(1 1.04)">1</text>
<text text-anchor="middle" transform="translate(473.65 2387.05) scale(1 1.04)">1.5</text>
<text text-anchor="end" transform="translate(98.45 1991.05) scale(1 1.04)">1.5</text>
<text text-anchor="middle" transform="translate(594.47 2387.05) scale(1 1.04)">2</text>
<text text-anchor="end" transform="translate(98.45 1870.38) scale(1 1.04)">2</text>
<text text-anchor="middle" transform="translate(715.28 2387.05) scale(1 1.04)">2.5</text>
<text text-anchor="end" transform="translate(98.45 1749.72) scale(1 1.04)">2.5</text>
<text text-anchor="middle" transform="translate(836.1 2387.05) scale(1 1.04)">3</text>
<text text-anchor="end" transform="translate(98.45 1629.05) scale(1 1.04)">3</text>
</g>
<g class="lg">
<rect class="lgbox" x="134.65" y="1636.75" width="307.3" height="132.3"/>
<path class="mk" stroke="#000" d="M177.5 1662h17.1M186.05 1653.45v17.1"/>
<text transform="translate(234.55 1673.1) scale(1 1.025)">GEBCO2019</text>
<path class="mk" stroke="#f00" d="M177.5 1703.5h17.1M186.05 1694.95v17.1"/>
<text transform="translate(234.55 1714.6) scale(1 1.025)">Locally refined</text>
<path class="lgone" d="M142.95 1744.3H226.15"/>
<text transform="translate(234.55 1756.1) scale(1 1.025)">1:1 Line</text>
</g>
</g>
<text text-anchor="middle" class="axl" transform="translate(473.65 2434.55) scale(1 1.025)">Observed M2 Amplitude (m)</text>
<text text-anchor="middle" class="axl" transform="translate(1274.35 1634.35) scale(1 1.025)">Observed M2 Amplitude (m)</text>
<text text-anchor="middle" class="axl" transform="translate(33.2 1176.95) rotate(-90) scale(1 1.025)">Simulated M2 Amplitude (m)</text>
<text class="pl" transform="translate(7.8 27.8) scale(1 1.04)">A</text>
<text class="pl" transform="translate(847.6 27.8) scale(1 1.04)">B</text>
<text class="pl" transform="translate(6.6 822) scale(1 1.04)">C</text>
<text class="pl" transform="translate(847.6 821.8) scale(1 1.04)">D</text>
<text class="pl" transform="translate(5 1632.4) scale(1 1.04)">E</text>
</svg></body></html>
